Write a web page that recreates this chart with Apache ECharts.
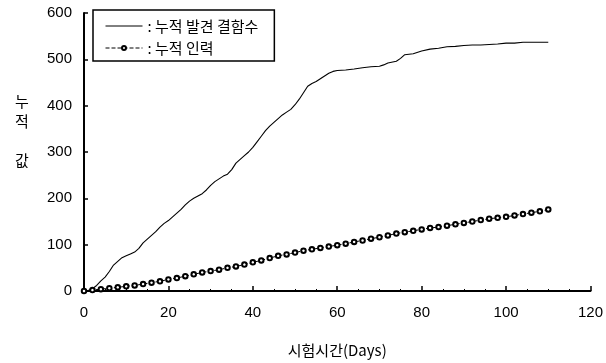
<!DOCTYPE html>
<html>
<head>
<meta charset="utf-8">
<script src="https://cdn.jsdelivr.net/npm/echarts@6/dist/echarts.min.js"></script>
<style>html,body{margin:0;padding:0;background:#fff}#c{width:606px;height:363px}</style>
</head>
<body>
<div id="c"></div>
<script>
// Series names
var seriesNames = ['누적 발견 결함수', '누적 인력'];
// Cumulative detected defects (day, value)
var defectDays = [0,1,2,3,4,5,6,7,8,9,10,11,12,13,14,15,16,17,18,19,20,21,22,23,24,25,26,27,28,29,30,31,32,33,34,35,36,37,38,39,40,41,42,43,44,45,46,47,48,49,50,51,52,53,54,55,56,57,58,59,60,62,64,66,68,70,71,72,74,75,76,78,80,82,84,86,88,90,92,94,96,98,100,102,104,106,108,110];
var defectVals = [0,1,5,12,22,30,42,56,64,72,76,80,84,92,104,112,120,128,138,146,152,160,168,176,186,194,200,205,210,218,228,236,242,248,252,262,276,284,292,300,310,322,334,346,356,364,372,380,386,392,402,414,428,442,448,452,458,464,470,474,476,477,479,482,484,485,488,492,496,502,510,512,518,522,524,527,528,530,531,531,532,533,535,535,537,537,537,537];
// Cumulative effort (day, value)
var effortDays = [0,2,4,6,8,10,12,14,16,18,20,22,24,26,28,30,32,34,36,38,40,42,44,46,48,50,52,54,56,58,60,62,64,66,68,70,72,74,76,78,80,82,84,86,88,90,92,94,96,98,100,102,104,106,108,110];
var effortVals = [0,2,4,6,8,10,12,15,18,21,25,28,32,36,40,43,46,50,53,57,62,66,71,76,79,83,87,90,93,96,99,102,106,109,113,116,120,124,127,130,133,136,138,141,144,147,150,153,156,158,160,163,166,169,172,176];
// Axis ticks
var xTicks = [0,20,40,60,80,100,120];
var yTicks = [0,100,200,300,400,500,600];
var yLabelChars = ['누','적','값'];

function pairs(xs, ys){ return xs.map(function(x,i){ return [x, ys[i]]; }); }

var numFont = 'Liberation Sans, Arial, sans-serif';
var krFont = 'Noto Sans CJK KR, sans-serif';
var chart = echarts.init(document.getElementById('c'));
chart.setOption({
  animation: false,
  backgroundColor: '#fff',
  grid: {left: 84, right: 11, top: 13, bottom: 69},
  legend: {
    orient: 'vertical', left: 93, top: 10,
    borderColor: '#000', borderWidth: 1.5, borderRadius: 0,
    padding: [6, 16, 3, 12], itemGap: 2,
    itemWidth: 37, itemHeight: 5,
    lineStyle: {width: 1},
    formatter: function(n){ return ': ' + n; },
    textStyle: {fontFamily: krFont, fontSize: 15, color: '#000', lineHeight: 20},
    data: [
      {name: seriesNames[0], itemStyle: {color: 'rgba(0,0,0,0)', borderWidth: 0}},
      {name: seriesNames[1]}
    ]
  },
  xAxis: {
    type: 'value', min: xTicks[0], max: xTicks[xTicks.length-1], interval: 20,
    name: '시험시간(Days)', nameLocation: 'middle', nameGap: 52,
    nameTextStyle: {fontFamily: krFont, fontSize: 15, color: '#000'},
    axisLine: {lineStyle: {color: '#000', width: 2}},
    axisTick: {inside: true, length: 5, lineStyle: {color: '#000', width: 1.5}},
    minorTick: {show: true, splitNumber: 4, length: 2, lineStyle: {color: '#000'}},
    splitLine: {show: false},
    axisLabel: {fontFamily: numFont, fontSize: 15, color: '#000', margin: 14}
  },
  yAxis: {
    type: 'value', min: yTicks[0], max: yTicks[yTicks.length-1], interval: 100,
    axisLine: {show: true, lineStyle: {color: '#000', width: 2}},
    axisTick: {show: true, inside: true, length: 4, lineStyle: {color: '#000', width: 1.5}},
    splitLine: {show: false},
    axisLabel: {fontFamily: numFont, fontSize: 15, color: '#000', margin: 12}
  },
  graphic: yLabelChars.map(function(ch, i){
    return {type: 'text', left: 15, top: [94, 114, 153][i],
      style: {text: ch, font: '15px ' + krFont, fill: '#000'}};
  }),
  series: [
    {
      name: seriesNames[0], type: 'line', data: pairs(defectDays, defectVals),
      showSymbol: false, symbol: 'none',
      lineStyle: {color: '#000', width: 1.1}, itemStyle: {color: '#000'}
    },
    {
      name: seriesNames[1], type: 'line', data: pairs(effortDays, effortVals),
      symbol: 'emptyCircle', symbolSize: 4.5, showSymbol: true,
      lineStyle: {color: '#000', width: 1, type: 'dashed'},
      itemStyle: {color: '#000', borderWidth: 1}
    }
  ]
});
</script>
</body>
</html>
